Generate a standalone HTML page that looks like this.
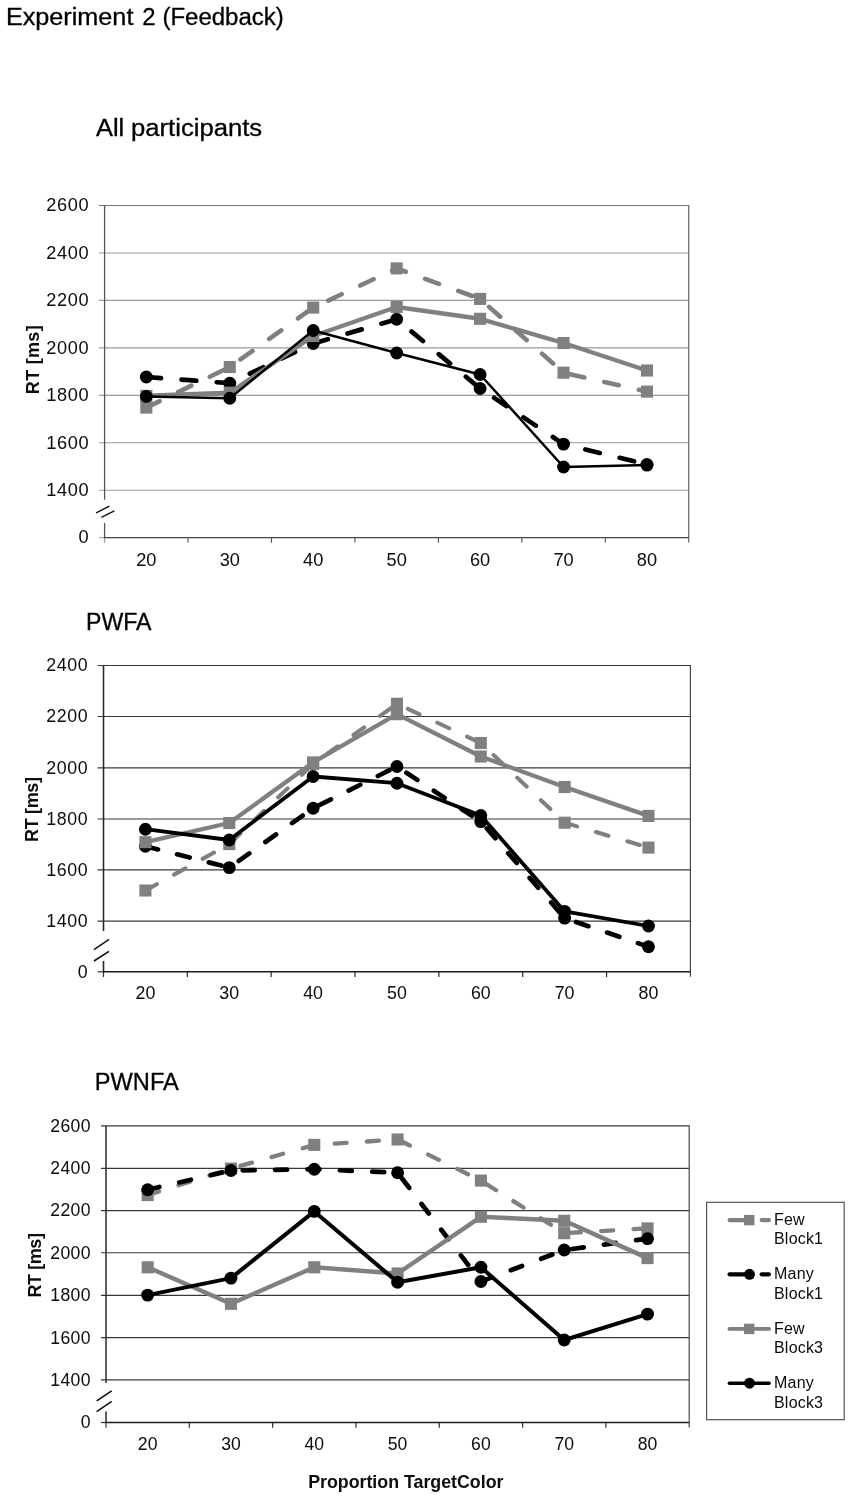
<!DOCTYPE html>
<html lang="en">
<head>
<meta charset="utf-8">
<title>Experiment 2 (Feedback)</title>
<style>
html,body{margin:0;padding:0;background:#fff;}
body{width:851px;height:1498px;overflow:hidden;}
svg{display:block;}
svg text{font-family:"Liberation Sans", Arial, sans-serif;fill:#0a0a0a;}
svg text.t{fill:#000;stroke:#000;stroke-width:0.3px;}
</style>
</head>
<body>
<svg width="851" height="1498" viewBox="0 0 851 1498">
<defs><filter id="soft" x="0" y="0" width="851" height="1498" filterUnits="userSpaceOnUse"><feGaussianBlur stdDeviation="0.4"/></filter></defs>
<rect x="0" y="0" width="851" height="1498" fill="#ffffff"/>
<g filter="url(#soft)">
<g id="titles">
<text y="24.9" font-size="23" class="t"><tspan x="5.9" textLength="127.5" lengthAdjust="spacingAndGlyphs">Experiment</tspan> <tspan x="142.3" textLength="13.3" lengthAdjust="spacingAndGlyphs">2</tspan> <tspan x="162.4" textLength="121.4" lengthAdjust="spacingAndGlyphs">(Feedback)</tspan></text>
<text y="135.6" font-size="23" class="t"><tspan x="96.0" textLength="28.2" lengthAdjust="spacingAndGlyphs">All</tspan> <tspan x="131.0" textLength="131.2" lengthAdjust="spacingAndGlyphs">participants</tspan></text>
<text x="86.0" y="630.3" font-size="23" class="t" textLength="65.5" lengthAdjust="spacingAndGlyphs">PWFA</text>
<text x="94.8" y="1090.2" font-size="23" class="t" textLength="84" lengthAdjust="spacingAndGlyphs">PWNFA</text>
<text x="405.8" y="1488.1" font-size="17.8" font-weight="bold" text-anchor="middle">Proportion TargetColor</text>
</g>
<g id="chart-all">
<line x1="99" y1="205.5" x2="689.25" y2="205.5" stroke="#707070" stroke-width="1.1"/>
<line x1="99" y1="252.95" x2="688.7" y2="252.95" stroke="#999" stroke-width="1.1"/>
<line x1="99" y1="300.4" x2="688.7" y2="300.4" stroke="#999" stroke-width="1.1"/>
<line x1="99" y1="347.9" x2="688.7" y2="347.9" stroke="#999" stroke-width="1.1"/>
<line x1="99" y1="395.35" x2="688.7" y2="395.35" stroke="#999" stroke-width="1.1"/>
<line x1="99" y1="442.8" x2="688.7" y2="442.8" stroke="#999" stroke-width="1.1"/>
<line x1="99" y1="490.3" x2="688.7" y2="490.3" stroke="#999" stroke-width="1.1"/>
<line x1="688.7" y1="205.5" x2="688.7" y2="542.6" stroke="#6c6c6c" stroke-width="1.3"/>
<line x1="104.6" y1="205.5" x2="104.6" y2="499.7" stroke="#555" stroke-width="1.3"/>
<line x1="104.6" y1="522.9" x2="104.6" y2="537.6" stroke="#555" stroke-width="1.3"/>
<line x1="104.6" y1="537.6" x2="104.6" y2="542.8" stroke="#999" stroke-width="1.1"/>
<line x1="96.1" y1="512.9" x2="109.4" y2="506.2" stroke="#111" stroke-width="1.3"/>
<line x1="101.4" y1="517.3" x2="114.3" y2="510.8" stroke="#111" stroke-width="1.3"/>
<line x1="99" y1="537.6" x2="104.6" y2="537.6" stroke="#999" stroke-width="1.1"/>
<line x1="103.95" y1="537.6" x2="688.7" y2="537.6" stroke="#444" stroke-width="1.4"/>
<line x1="188.04" y1="537.6" x2="188.04" y2="542.8" stroke="#555" stroke-width="1.1"/>
<line x1="271.49" y1="537.6" x2="271.49" y2="542.8" stroke="#555" stroke-width="1.1"/>
<line x1="354.93" y1="537.6" x2="354.93" y2="542.8" stroke="#555" stroke-width="1.1"/>
<line x1="438.37" y1="537.6" x2="438.37" y2="542.8" stroke="#555" stroke-width="1.1"/>
<line x1="521.81" y1="537.6" x2="521.81" y2="542.8" stroke="#555" stroke-width="1.1"/>
<line x1="605.26" y1="537.6" x2="605.26" y2="542.8" stroke="#555" stroke-width="1.1"/>
<text x="89.25" y="211.3" text-anchor="end" font-size="18.2" letter-spacing="0.65">2600</text>
<text x="89.25" y="258.75" text-anchor="end" font-size="18.2" letter-spacing="0.65">2400</text>
<text x="89.25" y="306.2" text-anchor="end" font-size="18.2" letter-spacing="0.65">2200</text>
<text x="89.25" y="353.7" text-anchor="end" font-size="18.2" letter-spacing="0.65">2000</text>
<text x="89.25" y="401.15" text-anchor="end" font-size="18.2" letter-spacing="0.65">1800</text>
<text x="89.25" y="448.6" text-anchor="end" font-size="18.2" letter-spacing="0.65">1600</text>
<text x="89.25" y="496.1" text-anchor="end" font-size="18.2" letter-spacing="0.65">1400</text>
<text x="89.25" y="543.4" text-anchor="end" font-size="18.2" letter-spacing="0.65">0</text>
<text x="146.32" y="566" text-anchor="middle" font-size="18.2">20</text>
<text x="229.76" y="566" text-anchor="middle" font-size="18.2">30</text>
<text x="313.21" y="566" text-anchor="middle" font-size="18.2">40</text>
<text x="396.65" y="566" text-anchor="middle" font-size="18.2">50</text>
<text x="480.09" y="566" text-anchor="middle" font-size="18.2">60</text>
<text x="563.54" y="566" text-anchor="middle" font-size="18.2">70</text>
<text x="646.98" y="566" text-anchor="middle" font-size="18.2">80</text>
<text transform="translate(38.8 359.6) rotate(-90)" text-anchor="middle" font-size="18" font-weight="bold" letter-spacing="0.3">RT [ms]</text>
<polyline points="146.32,407.6 229.76,367 313.21,307.6 396.65,268.4 480.09,298.9 563.54,372.7 646.98,391.6" fill="none" stroke="#808080" stroke-width="4.6" stroke-linejoin="round" stroke-dasharray="14.8 20.5" stroke-linecap="round"/>
<rect x="140.27" y="401.55" width="12.1" height="12.1" fill="#808080"/>
<rect x="223.71" y="360.95" width="12.1" height="12.1" fill="#808080"/>
<rect x="307.16" y="301.55" width="12.1" height="12.1" fill="#808080"/>
<rect x="390.6" y="262.35" width="12.1" height="12.1" fill="#808080"/>
<rect x="474.04" y="292.85" width="12.1" height="12.1" fill="#808080"/>
<rect x="557.49" y="366.65" width="12.1" height="12.1" fill="#808080"/>
<rect x="640.93" y="385.55" width="12.1" height="12.1" fill="#808080"/>
<polyline points="146.32,377 229.76,383.2 313.21,343.5 396.65,319.2 480.09,388.5 563.54,444.1 646.98,464.5" fill="none" stroke="#000000" stroke-width="4.7" stroke-linejoin="round" stroke-dasharray="14.8 20.5" stroke-linecap="round"/>
<circle cx="146.32" cy="377" r="6.45" fill="#000000"/>
<circle cx="229.76" cy="383.2" r="6.45" fill="#000000"/>
<circle cx="313.21" cy="343.5" r="6.45" fill="#000000"/>
<circle cx="396.65" cy="319.2" r="6.45" fill="#000000"/>
<circle cx="480.09" cy="388.5" r="6.45" fill="#000000"/>
<circle cx="563.54" cy="444.1" r="6.45" fill="#000000"/>
<circle cx="646.98" cy="464.5" r="6.45" fill="#000000"/>
<polyline points="146.32,395.8 229.76,392.7 313.21,336 396.65,307 480.09,318.8 563.54,343 646.98,370.5" fill="none" stroke="#808080" stroke-width="4.4" stroke-linejoin="round"/>
<rect x="140.27" y="389.75" width="12.1" height="12.1" fill="#808080"/>
<rect x="223.71" y="386.65" width="12.1" height="12.1" fill="#808080"/>
<rect x="307.16" y="329.95" width="12.1" height="12.1" fill="#808080"/>
<rect x="390.6" y="300.95" width="12.1" height="12.1" fill="#808080"/>
<rect x="474.04" y="312.75" width="12.1" height="12.1" fill="#808080"/>
<rect x="557.49" y="336.95" width="12.1" height="12.1" fill="#808080"/>
<rect x="640.93" y="364.45" width="12.1" height="12.1" fill="#808080"/>
<polyline points="146.32,396.5 229.76,398.2 313.21,330.5 396.65,353 480.09,374.5 563.54,467 646.98,465.1" fill="none" stroke="#000000" stroke-width="2.5" stroke-linejoin="round"/>
<circle cx="146.32" cy="396.5" r="6.45" fill="#000000"/>
<circle cx="229.76" cy="398.2" r="6.45" fill="#000000"/>
<circle cx="313.21" cy="330.5" r="6.45" fill="#000000"/>
<circle cx="396.65" cy="353" r="6.45" fill="#000000"/>
<circle cx="480.09" cy="374.5" r="6.45" fill="#000000"/>
<circle cx="563.54" cy="467" r="6.45" fill="#000000"/>
<circle cx="646.98" cy="465.1" r="6.45" fill="#000000"/>
</g>
<g id="chart-pwfa">
<line x1="97.6" y1="665.5" x2="691" y2="665.5" stroke="#383838" stroke-width="1.2"/>
<line x1="97.6" y1="716.5" x2="690.4" y2="716.5" stroke="#383838" stroke-width="1.2"/>
<line x1="97.6" y1="767.8" x2="690.4" y2="767.8" stroke="#383838" stroke-width="1.2"/>
<line x1="97.6" y1="819" x2="690.4" y2="819" stroke="#383838" stroke-width="1.2"/>
<line x1="97.6" y1="869.9" x2="690.4" y2="869.9" stroke="#383838" stroke-width="1.2"/>
<line x1="97.6" y1="921.1" x2="690.4" y2="921.1" stroke="#383838" stroke-width="1.2"/>
<line x1="690.4" y1="665.5" x2="690.4" y2="976.8" stroke="#4a4a4a" stroke-width="1.2"/>
<line x1="103.5" y1="665.5" x2="103.5" y2="930.9" stroke="#2a2a2a" stroke-width="1.6"/>
<line x1="103.5" y1="961" x2="103.5" y2="971.8" stroke="#2a2a2a" stroke-width="1.6"/>
<line x1="103.5" y1="971.8" x2="103.5" y2="977" stroke="#333" stroke-width="1.2"/>
<line x1="94" y1="949.6" x2="109" y2="939.4" stroke="#111" stroke-width="1.5"/>
<line x1="94" y1="961" x2="109" y2="951.3" stroke="#111" stroke-width="1.5"/>
<line x1="97.6" y1="971.8" x2="103.5" y2="971.8" stroke="#333" stroke-width="1.2"/>
<line x1="102.7" y1="971.8" x2="690.4" y2="971.8" stroke="#1c1c1c" stroke-width="1.6"/>
<line x1="187.34" y1="971.8" x2="187.34" y2="977" stroke="#2a2a2a" stroke-width="1.2"/>
<line x1="271.19" y1="971.8" x2="271.19" y2="977" stroke="#2a2a2a" stroke-width="1.2"/>
<line x1="355.03" y1="971.8" x2="355.03" y2="977" stroke="#2a2a2a" stroke-width="1.2"/>
<line x1="438.87" y1="971.8" x2="438.87" y2="977" stroke="#2a2a2a" stroke-width="1.2"/>
<line x1="522.71" y1="971.8" x2="522.71" y2="977" stroke="#2a2a2a" stroke-width="1.2"/>
<line x1="606.56" y1="971.8" x2="606.56" y2="977" stroke="#2a2a2a" stroke-width="1.2"/>
<text x="88.35" y="671.3" text-anchor="end" font-size="17.8" letter-spacing="0.65">2400</text>
<text x="88.35" y="722.3" text-anchor="end" font-size="17.8" letter-spacing="0.65">2200</text>
<text x="88.35" y="773.6" text-anchor="end" font-size="17.8" letter-spacing="0.65">2000</text>
<text x="88.35" y="824.8" text-anchor="end" font-size="17.8" letter-spacing="0.65">1800</text>
<text x="88.35" y="875.7" text-anchor="end" font-size="17.8" letter-spacing="0.65">1600</text>
<text x="88.35" y="926.9" text-anchor="end" font-size="17.8" letter-spacing="0.65">1400</text>
<text x="88.35" y="977.6" text-anchor="end" font-size="17.8" letter-spacing="0.65">0</text>
<text x="145.42" y="999" text-anchor="middle" font-size="17.8">20</text>
<text x="229.26" y="999" text-anchor="middle" font-size="17.8">30</text>
<text x="313.11" y="999" text-anchor="middle" font-size="17.8">40</text>
<text x="396.95" y="999" text-anchor="middle" font-size="17.8">50</text>
<text x="480.79" y="999" text-anchor="middle" font-size="17.8">60</text>
<text x="564.64" y="999" text-anchor="middle" font-size="17.8">70</text>
<text x="648.48" y="999" text-anchor="middle" font-size="17.8">80</text>
<text transform="translate(37.5 809.6) rotate(-90)" text-anchor="middle" font-size="18" font-weight="bold" letter-spacing="-0.35">RT [ms]</text>
<polyline points="145.42,890.5 229.26,844.1 313.11,764 396.95,703.8 480.79,743 564.64,822.7 648.48,847.6" fill="none" stroke="#808080" stroke-width="4.1" stroke-linejoin="round" stroke-dasharray="13.0 19.7" stroke-linecap="round"/>
<rect x="139.37" y="884.45" width="12.1" height="12.1" fill="#808080"/>
<rect x="223.21" y="838.05" width="12.1" height="12.1" fill="#808080"/>
<rect x="307.06" y="757.95" width="12.1" height="12.1" fill="#808080"/>
<rect x="390.9" y="697.75" width="12.1" height="12.1" fill="#808080"/>
<rect x="474.74" y="736.95" width="12.1" height="12.1" fill="#808080"/>
<rect x="558.59" y="816.65" width="12.1" height="12.1" fill="#808080"/>
<rect x="642.43" y="841.55" width="12.1" height="12.1" fill="#808080"/>
<polyline points="145.42,846.2 229.26,867.6 313.11,808.2 396.95,766.5 480.79,821.6 564.64,918.1 648.48,946.7" fill="none" stroke="#000000" stroke-width="4.7" stroke-linejoin="round" stroke-dasharray="13.0 19.7" stroke-linecap="round"/>
<circle cx="145.42" cy="846.2" r="6.45" fill="#000000"/>
<circle cx="229.26" cy="867.6" r="6.45" fill="#000000"/>
<circle cx="313.11" cy="808.2" r="6.45" fill="#000000"/>
<circle cx="396.95" cy="766.5" r="6.45" fill="#000000"/>
<circle cx="480.79" cy="821.6" r="6.45" fill="#000000"/>
<circle cx="564.64" cy="918.1" r="6.45" fill="#000000"/>
<circle cx="648.48" cy="946.7" r="6.45" fill="#000000"/>
<polyline points="145.42,842.2 229.26,823 313.11,762.4 396.95,714.2 480.79,756.5 564.64,787 648.48,815.9" fill="none" stroke="#808080" stroke-width="4.3" stroke-linejoin="round"/>
<rect x="139.37" y="836.15" width="12.1" height="12.1" fill="#808080"/>
<rect x="223.21" y="816.95" width="12.1" height="12.1" fill="#808080"/>
<rect x="307.06" y="756.35" width="12.1" height="12.1" fill="#808080"/>
<rect x="390.9" y="708.15" width="12.1" height="12.1" fill="#808080"/>
<rect x="474.74" y="750.45" width="12.1" height="12.1" fill="#808080"/>
<rect x="558.59" y="780.95" width="12.1" height="12.1" fill="#808080"/>
<rect x="642.43" y="809.85" width="12.1" height="12.1" fill="#808080"/>
<polyline points="145.42,829.2 229.26,840 313.11,776.5 396.95,783.2 480.79,815.5 564.64,911.4 648.48,926" fill="none" stroke="#000000" stroke-width="3.8" stroke-linejoin="round"/>
<circle cx="145.42" cy="829.2" r="6.45" fill="#000000"/>
<circle cx="229.26" cy="840" r="6.45" fill="#000000"/>
<circle cx="313.11" cy="776.5" r="6.45" fill="#000000"/>
<circle cx="396.95" cy="783.2" r="6.45" fill="#000000"/>
<circle cx="480.79" cy="815.5" r="6.45" fill="#000000"/>
<circle cx="564.64" cy="911.4" r="6.45" fill="#000000"/>
<circle cx="648.48" cy="926" r="6.45" fill="#000000"/>
</g>
<g id="chart-pwnfa">
<line x1="101" y1="1125.95" x2="689.8" y2="1125.95" stroke="#383838" stroke-width="1.2"/>
<line x1="101" y1="1168.3" x2="689.2" y2="1168.3" stroke="#383838" stroke-width="1.2"/>
<line x1="101" y1="1210.6" x2="689.2" y2="1210.6" stroke="#383838" stroke-width="1.2"/>
<line x1="101" y1="1252.75" x2="689.2" y2="1252.75" stroke="#383838" stroke-width="1.2"/>
<line x1="101" y1="1295.3" x2="689.2" y2="1295.3" stroke="#383838" stroke-width="1.2"/>
<line x1="101" y1="1337.7" x2="689.2" y2="1337.7" stroke="#383838" stroke-width="1.2"/>
<line x1="101" y1="1379.9" x2="689.2" y2="1379.9" stroke="#383838" stroke-width="1.2"/>
<line x1="689.2" y1="1125.95" x2="689.2" y2="1427.5" stroke="#4a4a4a" stroke-width="1.2"/>
<line x1="106" y1="1125.95" x2="106" y2="1382.9" stroke="#2a2a2a" stroke-width="1.5"/>
<line x1="106" y1="1411.6" x2="106" y2="1422.5" stroke="#2a2a2a" stroke-width="1.5"/>
<line x1="106" y1="1422.5" x2="106" y2="1427.7" stroke="#333" stroke-width="1.2"/>
<line x1="96.7" y1="1400.9" x2="111.7" y2="1390.8" stroke="#111" stroke-width="1.5"/>
<line x1="96.7" y1="1411.6" x2="111.7" y2="1401.4" stroke="#111" stroke-width="1.5"/>
<line x1="101" y1="1422.5" x2="106" y2="1422.5" stroke="#333" stroke-width="1.2"/>
<line x1="105.25" y1="1422.5" x2="689.2" y2="1422.5" stroke="#1c1c1c" stroke-width="1.7"/>
<line x1="189.31" y1="1422.5" x2="189.31" y2="1427.7" stroke="#2a2a2a" stroke-width="1.2"/>
<line x1="272.63" y1="1422.5" x2="272.63" y2="1427.7" stroke="#2a2a2a" stroke-width="1.2"/>
<line x1="355.94" y1="1422.5" x2="355.94" y2="1427.7" stroke="#2a2a2a" stroke-width="1.2"/>
<line x1="439.26" y1="1422.5" x2="439.26" y2="1427.7" stroke="#2a2a2a" stroke-width="1.2"/>
<line x1="522.57" y1="1422.5" x2="522.57" y2="1427.7" stroke="#2a2a2a" stroke-width="1.2"/>
<line x1="605.89" y1="1422.5" x2="605.89" y2="1427.7" stroke="#2a2a2a" stroke-width="1.2"/>
<text x="91.02" y="1131.75" text-anchor="end" font-size="17.6" letter-spacing="0.42">2600</text>
<text x="91.02" y="1174.1" text-anchor="end" font-size="17.6" letter-spacing="0.42">2400</text>
<text x="91.02" y="1216.4" text-anchor="end" font-size="17.6" letter-spacing="0.42">2200</text>
<text x="91.02" y="1258.55" text-anchor="end" font-size="17.6" letter-spacing="0.42">2000</text>
<text x="91.02" y="1301.1" text-anchor="end" font-size="17.6" letter-spacing="0.42">1800</text>
<text x="91.02" y="1343.5" text-anchor="end" font-size="17.6" letter-spacing="0.42">1600</text>
<text x="91.02" y="1385.7" text-anchor="end" font-size="17.6" letter-spacing="0.42">1400</text>
<text x="91.02" y="1428.3" text-anchor="end" font-size="17.6" letter-spacing="0.42">0</text>
<text x="147.66" y="1449.5" text-anchor="middle" font-size="17.6">20</text>
<text x="230.97" y="1449.5" text-anchor="middle" font-size="17.6">30</text>
<text x="314.29" y="1449.5" text-anchor="middle" font-size="17.6">40</text>
<text x="397.6" y="1449.5" text-anchor="middle" font-size="17.6">50</text>
<text x="480.91" y="1449.5" text-anchor="middle" font-size="17.6">60</text>
<text x="564.23" y="1449.5" text-anchor="middle" font-size="17.6">70</text>
<text x="647.54" y="1449.5" text-anchor="middle" font-size="17.6">80</text>
<text transform="translate(40.7 1265.5) rotate(-90)" text-anchor="middle" font-size="18" font-weight="bold" letter-spacing="-0.42">RT [ms]</text>
<polyline points="147.66,1195.1 230.97,1168.6 314.29,1144.9 397.6,1139.5 480.91,1180.6 564.23,1233.2 647.54,1228.4" fill="none" stroke="#808080" stroke-width="4.3" stroke-linejoin="round" stroke-dasharray="12.0 20.4" stroke-linecap="round"/>
<rect x="141.61" y="1189.05" width="12.1" height="12.1" fill="#808080"/>
<rect x="224.92" y="1162.55" width="12.1" height="12.1" fill="#808080"/>
<rect x="308.24" y="1138.85" width="12.1" height="12.1" fill="#808080"/>
<rect x="391.55" y="1133.45" width="12.1" height="12.1" fill="#808080"/>
<rect x="474.86" y="1174.55" width="12.1" height="12.1" fill="#808080"/>
<rect x="558.18" y="1227.15" width="12.1" height="12.1" fill="#808080"/>
<rect x="641.49" y="1222.35" width="12.1" height="12.1" fill="#808080"/>
<polyline points="147.66,1189.7 230.97,1170.5 314.29,1169.2 397.6,1172.7 480.91,1281.5 564.23,1250 647.54,1238.6" fill="none" stroke="#000000" stroke-width="4.7" stroke-linejoin="round" stroke-dasharray="12.0 20.4" stroke-linecap="round"/>
<circle cx="147.66" cy="1189.7" r="6.45" fill="#000000"/>
<circle cx="230.97" cy="1170.5" r="6.45" fill="#000000"/>
<circle cx="314.29" cy="1169.2" r="6.45" fill="#000000"/>
<circle cx="397.6" cy="1172.7" r="6.45" fill="#000000"/>
<circle cx="480.91" cy="1281.5" r="6.45" fill="#000000"/>
<circle cx="564.23" cy="1250" r="6.45" fill="#000000"/>
<circle cx="647.54" cy="1238.6" r="6.45" fill="#000000"/>
<polyline points="147.66,1267.3 230.97,1303.8 314.29,1267.3 397.6,1273.5 480.91,1216.8 564.23,1220.8 647.54,1258.1" fill="none" stroke="#808080" stroke-width="4.5" stroke-linejoin="round"/>
<rect x="141.61" y="1261.25" width="12.1" height="12.1" fill="#808080"/>
<rect x="224.92" y="1297.75" width="12.1" height="12.1" fill="#808080"/>
<rect x="308.24" y="1261.25" width="12.1" height="12.1" fill="#808080"/>
<rect x="391.55" y="1267.45" width="12.1" height="12.1" fill="#808080"/>
<rect x="474.86" y="1210.75" width="12.1" height="12.1" fill="#808080"/>
<rect x="558.18" y="1214.75" width="12.1" height="12.1" fill="#808080"/>
<rect x="641.49" y="1252.05" width="12.1" height="12.1" fill="#808080"/>
<polyline points="147.66,1295.1 230.97,1278.1 314.29,1211.4 397.6,1282.2 480.91,1267.2 564.23,1340 647.54,1314.1" fill="none" stroke="#000000" stroke-width="4.0" stroke-linejoin="round"/>
<circle cx="147.66" cy="1295.1" r="6.45" fill="#000000"/>
<circle cx="230.97" cy="1278.1" r="6.45" fill="#000000"/>
<circle cx="314.29" cy="1211.4" r="6.45" fill="#000000"/>
<circle cx="397.6" cy="1282.2" r="6.45" fill="#000000"/>
<circle cx="480.91" cy="1267.2" r="6.45" fill="#000000"/>
<circle cx="564.23" cy="1340" r="6.45" fill="#000000"/>
<circle cx="647.54" cy="1314.1" r="6.45" fill="#000000"/>
</g>
<g id="legend">
<rect x="706.6" y="1202.3" width="137.6" height="217.4" fill="#fff" stroke="#555" stroke-width="1.2"/>
<line x1="729.6" y1="1220.1" x2="749" y2="1220.1" stroke="#808080" stroke-width="4.2" stroke-linecap="round"/>
<line x1="761.7" y1="1220.1" x2="768.9" y2="1220.1" stroke="#808080" stroke-width="4.2" stroke-linecap="round"/>
<rect x="744" y="1214.9" width="10.4" height="10.4" fill="#808080"/>
<text x="774.0" y="1225" font-size="16" letter-spacing="0.2">Few</text>
<text x="774.0" y="1244.4" font-size="16" letter-spacing="0.2">Block1</text>
<line x1="729.6" y1="1274.3" x2="749" y2="1274.3" stroke="#000000" stroke-width="4.2" stroke-linecap="round"/>
<line x1="761.7" y1="1274.3" x2="768.9" y2="1274.3" stroke="#000000" stroke-width="4.2" stroke-linecap="round"/>
<circle cx="749.5" cy="1274.3" r="5.45" fill="#000000"/>
<text x="774.0" y="1279.2" font-size="16" letter-spacing="0.2">Many</text>
<text x="774.0" y="1298.6" font-size="16" letter-spacing="0.2">Block1</text>
<line x1="729.4" y1="1328.9" x2="769.1" y2="1328.9" stroke="#808080" stroke-width="3.8" stroke-linecap="round"/>
<rect x="744" y="1323.7" width="10.4" height="10.4" fill="#808080"/>
<text x="774.0" y="1333.8" font-size="16" letter-spacing="0.2">Few</text>
<text x="774.0" y="1353.2" font-size="16" letter-spacing="0.2">Block3</text>
<line x1="729.4" y1="1383.2" x2="769.1" y2="1383.2" stroke="#000000" stroke-width="3.4" stroke-linecap="round"/>
<circle cx="749.5" cy="1383.2" r="5.45" fill="#000000"/>
<text x="774.0" y="1388.1" font-size="16" letter-spacing="0.2">Many</text>
<text x="774.0" y="1407.5" font-size="16" letter-spacing="0.2">Block3</text>
</g>
</g>
</svg>
</body>
</html>
